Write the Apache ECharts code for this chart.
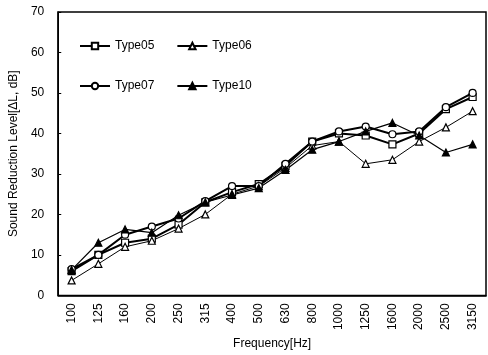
<!DOCTYPE html>
<html><head><meta charset="utf-8">
<script src="https://cdn.jsdelivr.net/npm/echarts@6/dist/echarts.min.js"></script>
<style>html,body{margin:0;padding:0;background:#fff}#c{width:488px;height:355px}</style>
</head><body><div id="c"></div>
<script>
const categories = ['100','125','160','200','250','315','400','500','630','800','1000','1250','1600','2000','2500','3150'];
const type05 = [6, 10, 13, 14, 17.5, 23, 25.5, 27.5, 32, 38, 40, 39.5, 37.3, 40, 46, 49];
const type06 = [3.7, 7.8, 12, 13.5, 16.5, 20, 25, 27, 31.5, 37, 38, 32.5, 33.5, 38, 41.5, 45.5];
const type07 = [6.5, 10, 15, 17, 19, 23.3, 27, 27, 32.5, 38, 40.5, 41.7, 39.8, 40.5, 46.5, 50];
const type10 = [6.3, 13, 16.3, 15.5, 19.8, 23, 24.8, 26.5, 31, 36, 38, 40.5, 42.6, 39.5, 35.3, 37.3];
const yTicks = [0, 10, 20, 30, 40, 50, 60, 70];

const font = 'Liberation Sans, Arial, sans-serif';
function mk(name, data, symbol, filled, width) {
  return {
    name, type: 'line', data, symbol, symbolSize: 7,
    lineStyle: {color: '#000', width},
    itemStyle: {color: filled ? '#000' : '#fff', borderColor: '#000', borderWidth: 1.2},
    emphasis: {disabled: true}
  };
}
const chart = echarts.init(document.getElementById('c'), null, {renderer: 'canvas'});
chart.setOption({
  animation: false,
  backgroundColor: '#fff',
  grid: {left: 57, right: 2, top: 12, bottom: 57, show: true, borderColor: '#000', borderWidth: 1.5},
  legend: [
    {data: ['Type05', 'Type06'], left: 74, top: 35, itemGap: 22, itemWidth: 30, itemHeight: 8,
     textStyle: {fontFamily: font, fontSize: 12, color: '#000'}, selectedMode: false},
    {data: ['Type07', 'Type10'], left: 74, top: 75, itemGap: 22, itemWidth: 30, itemHeight: 8,
     textStyle: {fontFamily: font, fontSize: 12, color: '#000'}, selectedMode: false}
  ],
  xAxis: {
    type: 'category', data: categories, boundaryGap: true,
    name: 'Frequency[Hz]', nameLocation: 'middle', nameGap: 42,
    nameTextStyle: {fontFamily: font, fontSize: 12, color: '#000'},
    axisLine: {lineStyle: {color: '#000', width: 1.5}},
    axisTick: {show: false},
    axisLabel: {rotate: 90, fontFamily: font, fontSize: 12, color: '#000', margin: 8}
  },
  yAxis: {
    type: 'value', min: 0, max: 70, interval: 10,
    name: 'Sound Reduction Level[ΔL, dB]', nameLocation: 'middle', nameGap: 38,
    nameTextStyle: {fontFamily: font, fontSize: 12, color: '#000'},
    axisLine: {show: true, lineStyle: {color: '#000', width: 1.5}},
    axisTick: {show: true, inside: true, length: 3, lineStyle: {color: '#000'}},
    splitLine: {show: false},
    axisLabel: {fontFamily: font, fontSize: 12, color: '#000', margin: 14,
      formatter: v => yTicks.includes(v) ? String(v) : ''}
  },
  series: [
    mk('Type05', type05, 'rect', false, 2),
    mk('Type06', type06, 'triangle', false, 1),
    mk('Type07', type07, 'circle', false, 2),
    mk('Type10', type10, 'triangle', true, 1.2)
  ]
});
</script></body></html>
